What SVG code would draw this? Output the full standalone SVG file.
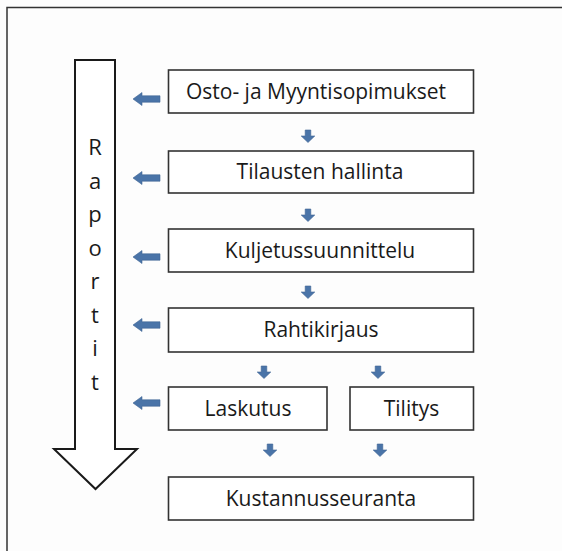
<svg xmlns="http://www.w3.org/2000/svg" width="562" height="551" viewBox="0 0 562 551">
  <defs>
    <style>
      .box { fill: #ffffff; stroke: #333333; stroke-width: 1.6; }
      .lbl { font-family: "Open Sans", "Liberation Sans", sans-serif; font-size: 21px; fill: #1a1a1a; text-anchor: middle; }
      .vert { font-family: "Open Sans", "Liberation Sans", sans-serif; font-size: 22px; fill: #1a1a1a; text-anchor: middle; }
      .blue { fill: #4a74a8; stroke: #3f6593; stroke-width: 0.6; }
    </style>
    <path id="down" d="M-2.8,-12 h5.6 v6 h4 l-6.8,6.5 l-6.8,-6.5 h4 z"/>
    <path id="left" d="M0,0 l9,-6.5 v3.3 h18 v6.4 h-18 v3.3 z"/>
  </defs>
  <rect x="0" y="0" width="562" height="551" fill="#fdfdfd"/>
  <path d="M7,551 V7.5 H562" fill="none" stroke="#333" stroke-width="1.5"/>

  <g id="raportit">
    <polygon points="75,60 115,60 115,449 137,449 95.5,489 54,449 75,449" fill="#ffffff" stroke="#1a1a1a" stroke-width="2"/>
    <text class="vert" x="95" y="155">R</text>
    <text class="vert" x="95" y="188.5">a</text>
    <text class="vert" x="95" y="222">p</text>
    <text class="vert" x="95" y="255.5">o</text>
    <text class="vert" x="95" y="289">r</text>
    <text class="vert" x="95" y="322.5">t</text>
    <text class="vert" x="95" y="356">i</text>
    <text class="vert" x="95" y="389.5">t</text>
  </g>

  <g id="osto">
    <rect class="box" x="168.5" y="70" width="305" height="43"/>
    <text class="lbl" x="316" y="99">Osto- ja Myyntisopimukset</text>
  </g>
  <g id="tilaus">
    <rect class="box" x="168.5" y="151" width="305" height="42"/>
    <text class="lbl" x="320" y="179">Tilausten hallinta</text>
  </g>
  <g id="kuljetus">
    <rect class="box" x="168.5" y="229" width="305" height="43"/>
    <text class="lbl" x="320" y="258">Kuljetussuunnittelu</text>
  </g>
  <g id="rahti">
    <rect class="box" x="168.5" y="308" width="305" height="44"/>
    <text class="lbl" x="321" y="337">Rahtikirjaus</text>
  </g>
  <g id="laskutus">
    <rect class="box" x="168.5" y="387" width="158.5" height="43"/>
    <text class="lbl" x="248" y="416">Laskutus</text>
  </g>
  <g id="tilitys">
    <rect class="box" x="350" y="387" width="123.5" height="43"/>
    <text class="lbl" x="411.5" y="416">Tilitys</text>
  </g>
  <g id="kustannus">
    <rect class="box" x="168.5" y="477" width="305" height="43"/>
    <text class="lbl" x="321" y="506">Kustannusseuranta</text>
  </g>

  <g id="connectors">
    <use href="#down" class="blue" x="308" y="142"/>
    <use href="#down" class="blue" x="308" y="221"/>
    <use href="#down" class="blue" x="308" y="298"/>
    <use href="#down" class="blue" x="264" y="378"/>
    <use href="#down" class="blue" x="378" y="378"/>
    <use href="#down" class="blue" x="270" y="456"/>
    <use href="#down" class="blue" x="380" y="456"/>
    <use href="#left" class="blue" x="133" y="99"/>
    <use href="#left" class="blue" x="133" y="178"/>
    <use href="#left" class="blue" x="133" y="257"/>
    <use href="#left" class="blue" x="133" y="325"/>
    <use href="#left" class="blue" x="133" y="403"/>
  </g>
</svg>
